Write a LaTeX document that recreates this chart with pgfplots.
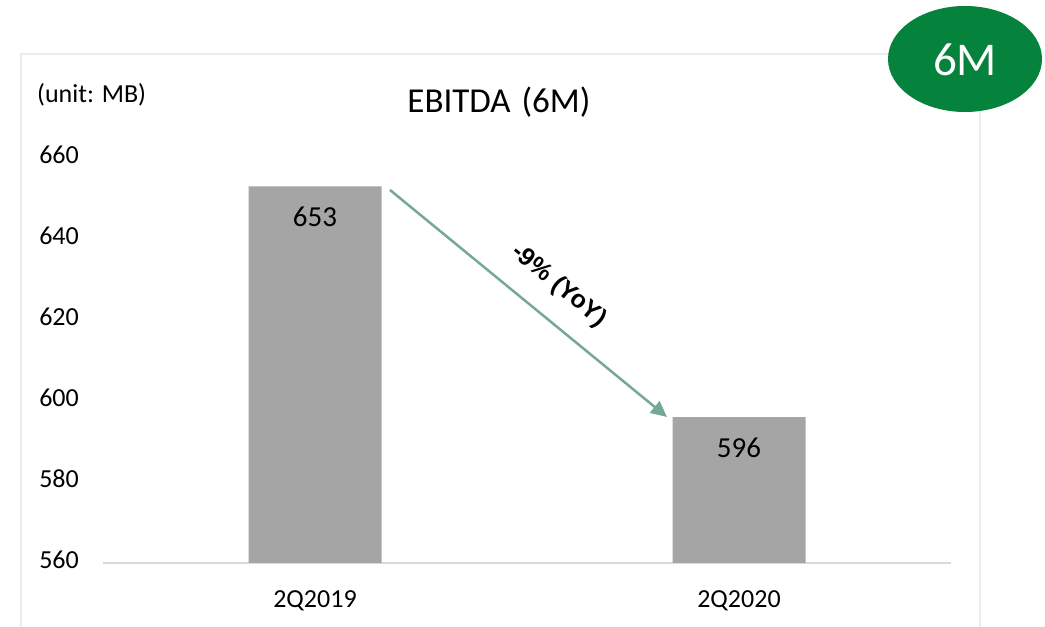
\documentclass[border=0pt]{standalone}
\usepackage{fontspec}
\setmainfont{Carlito}
\newfontfamily\arialfont{Liberation Sans}
\usepackage{pgfplots}
\pgfplotsset{compat=1.18}
\usetikzlibrary{arrows.meta}
\definecolor{barg}{HTML}{A5A5A5}
\definecolor{gbadge}{HTML}{05833D}
\definecolor{arrowc}{HTML}{75A898}
\definecolor{framec}{HTML}{EBEBEB}
\definecolor{axisc}{HTML}{D9D9D9}
\begin{document}
\begin{tikzpicture}
\useasboundingbox (0pt,0pt) rectangle (1045pt,627pt);
\draw[framec, line width=1.5pt] (21pt,0pt) -- (21pt,573pt) -- (980pt,573pt) -- (980pt,0pt);
\begin{axis}[
  at={(103pt,64pt)}, anchor=south west,
  scale only axis, width=848pt, height=405pt,
  xmin=-0.5, xmax=1.5, ymin=560, ymax=660,
  ytick={560,580,600,620,640,660},
  xtick={0,1}, xticklabels={2Q2019,2Q2020},
  axis x line*=bottom, axis y line*=left,
  separate axis lines,
  x axis line style={draw=axisc, line width=1.5pt, -},
  y axis line style={draw=none},
  major tick length=0pt,
  /pgf/number format/assume math mode=true,
  ticklabel style={font=\fontsize{26}{30}\selectfont, inner sep=0pt},
  yticklabel style={anchor=base east, xshift=-24pt, yshift=-6pt},
  xticklabel style={anchor=base, yshift=-45pt},
  clip=false,
  ybar, bar width=133pt,
  nodes near coords,
  every node near coord/.append style={anchor=base, yshift=-40pt, font=\fontsize{29}{32}\selectfont, text=black},
]
\addplot[fill=barg, draw=none] coordinates {(0,653) (1,596)};
\end{axis}
\node[anchor=base, font=\fontsize{35}{40}\selectfont] at (499pt,514pt) {EBITDA\hspace{3pt} (6M)};
\node[anchor=base west, inner sep=0pt, font=\fontsize{26}{30}\selectfont] at (37pt,524pt) {(unit: MB)};
\draw[arrowc, line width=2.5pt, -{Triangle[length=16pt, width=15pt]}] (390pt,437pt) -- (667pt,210pt);
\node[rotate=-39.3, font=\arialfont\bfseries\fontsize{25}{28}\selectfont] at (559pt,341pt) {-9\% (YoY)};
\fill[gbadge] (965pt,568pt) ellipse (77pt and 53pt);
\node[anchor=base, text=white, font=\fontsize{47}{52}\selectfont] at (965pt,551pt) {6M};
\end{tikzpicture}
\end{document}
